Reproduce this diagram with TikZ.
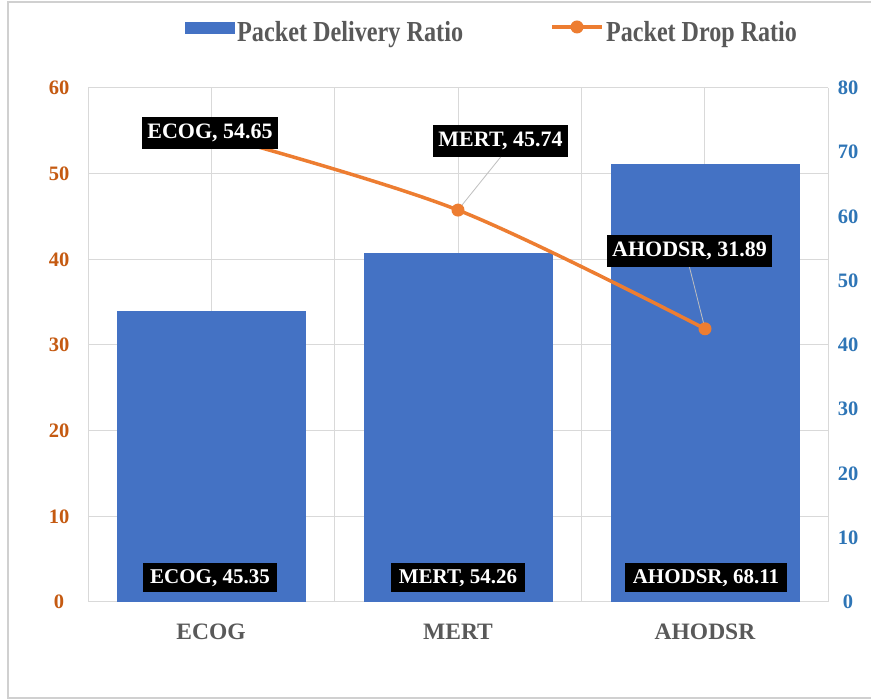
\documentclass[tikz,border=0pt]{standalone}
\usepackage{fontspec}
\setmainfont{Liberation Serif}
\definecolor{barblue}{HTML}{4472C4}
\definecolor{lineorange}{HTML}{ED7D31}
\definecolor{leftorange}{HTML}{C55A11}
\definecolor{rightblue}{HTML}{2E75B6}
\definecolor{gridgray}{HTML}{D9D9D9}
\definecolor{framegray}{HTML}{D0D0D0}
\definecolor{textgray}{HTML}{595959}
\definecolor{leadergray}{HTML}{BFBFBF}
\begin{document}
\begin{tikzpicture}[x=1pt,y=-1pt,
  gridline/.style={draw=gridgray, line width=1pt},
  barrect/.style={fill=barblue, draw=none},
  linelabel/.style={fill=black, text=white, inner xsep=5pt, inner ysep=0pt,
    minimum height=32pt, font=\bfseries\fontsize{22}{22}\selectfont},
  barlabel/.style={fill=black, text=white, inner xsep=7.5pt, inner ysep=0pt,
    minimum height=29pt, font=\bfseries\fontsize{21}{21}\selectfont},
  marker/.style={circle, fill=lineorange, draw=none, minimum size=13pt, inner sep=0pt},
  leader/.style={draw=leadergray, line width=0.8pt},
  dropline/.style={draw=lineorange, line width=3.5pt, line cap=round},
  lefttick/.style={text=leftorange, font=\bfseries\fontsize{20.5}{20.5}\selectfont},
  righttick/.style={text=rightblue, font=\bfseries\fontsize{20.5}{20.5}\selectfont},
  catlabel/.style={text=textgray, font=\bfseries\fontsize{23.5}{23.5}\selectfont},
  legendtext/.style={text=textgray, inner sep=0pt, font=\bfseries\fontsize{29}{29}\selectfont}
]
\useasboundingbox (0,0) rectangle (871,700);
\fill[white] (0,0) rectangle (871,700);
% outer frame
\draw[draw=framegray, line width=2pt] (871,2) -- (8,2) -- (8,698) -- (871,698);

% gridlines
\foreach \i in {0,...,6} {
  \draw[gridline] (88,{602-85.667*\i}) -- (828,{602-85.667*\i});
}
\foreach \j in {0,...,6} {
  \draw[gridline] ({88+123.333*\j},88) -- ({88+123.333*\j},602);
}

% bars
\fill[barrect] (116.5,602) rectangle (306,310.6);
\fill[barrect] (363.5,602) rectangle (553,253.4);
\fill[barrect] (610.5,602) rectangle (800,164.4);

% bar labels
\node[barlabel] (bl1) at (210,578) {ECOG, 45.35};
\node[barlabel] (bl2) at (458,578) {MERT, 54.26};
\node[barlabel] (bl3) at (706,578) {AHODSR, 68.11};

% line points
\coordinate (p1) at (211,133.8);
\coordinate (p2) at (458,210.1);
\coordinate (p3) at (705,328.8);

% line labels (positions)
\node[linelabel] (ll2) at (500.5,141) {MERT, 45.74};
\node[linelabel] (ll3) at (689.5,251) {AHODSR, 31.89};

% leaders
\draw[leader] (ll2.south) -- (p2);
\draw[leader] (ll3.south) -- (p3);

% drop ratio line
\draw[dropline] plot[smooth, tension=0.55] coordinates {(p1) (p2) (p3)};
\node[marker] (m1) at (p1) {};
\node[marker] (m2) at (p2) {};
\node[marker] (m3) at (p3) {};

\node[linelabel] (ll1) at (210,133) {ECOG, 54.65};

% left axis ticks
\foreach \v [count=\k from 0] in {0,10,20,30,40,50,60} {
  \node[lefttick] (lt\k) at (59,{602-85.667*\k}) {\v};
}
% right axis ticks
\foreach \v [count=\k from 0] in {0,10,20,30,40,50,60,70,80} {
  \node[righttick] (rt\k) at (848,{602-64.25*\k}) {\v};
}

% category labels
\node[catlabel] (c1) at (211,632) {ECOG};
\node[catlabel] (c2) at (458,632) {MERT};
\node[catlabel] (c3) at (705,632) {AHODSR};

% legend
\fill[barblue] (185,22) rectangle (235,34);
\node[legendtext, anchor=base west] (lg1) at (237,41.5) {\scalebox{0.835}[1]{Packet Delivery Ratio}};
\coordinate (lgs) at (552,27);
\coordinate (lge) at (602,27);
\draw[draw=lineorange, line width=3.5pt] (lgs) -- (lge);
\node[marker] (lgm) at (577,27) {};
\node[legendtext, anchor=base west] (lg2) at (606,41.5) {\scalebox{0.83}[1]{Packet Drop Ratio}};
\end{tikzpicture}
\end{document}
